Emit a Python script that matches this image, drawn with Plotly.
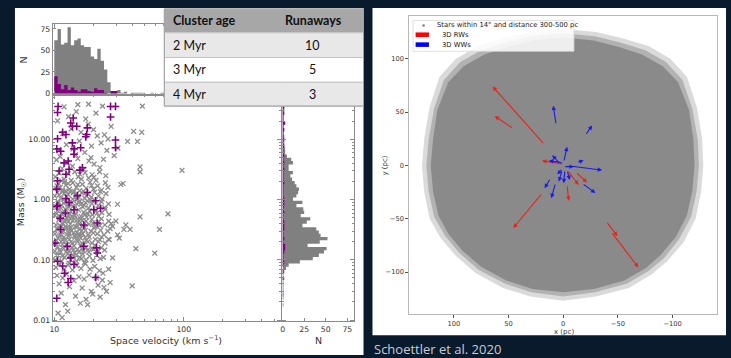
import numpy as np
import plotly.graph_objects as go

W, H = 731, 358
def fx(p): return p / W
def fy(p): return 1 - p / H

# ---------------- LEFT PANEL DATA ----------------
# all stars: (space velocity km/s, mass Msun)
gray_points = [
 (10.4,4.6),(11.5,3.3),(12.6,4.1),(13.8,3.6),(15.2,4.8),(16.9,3.2),(18.5,4.4),(20.3,3.9),(11.1,5.2),(14.6,5.6),(19.2,5.0),(22.5,3.4),(24.0,4.7),
 (10.2,2.4),(10.9,2.8),(11.9,2.2),(12.8,2.7),(13.5,2.1),(14.4,2.9),(15.3,2.4),(16.2,2.2),(17.3,2.8),(18.4,2.3),(19.6,2.6),(21.0,2.1),(22.4,2.9),(11.4,2.05),(15.8,2.65),(20.2,2.35),(25.0,2.5),
 (10.3,1.55),(10.8,1.85),(11.6,1.45),(12.3,1.75),(13.1,1.5),(13.9,1.9),(14.8,1.6),(15.7,1.42),(16.5,1.8),(17.6,1.55),(18.9,1.95),(20.1,1.5),(21.6,1.7),(23.2,1.45),(12.0,1.98),(14.2,1.38),(19.4,1.72),(26.0,1.6),(24.8,1.9),
 (10.1,1.15),(10.6,1.32),(11.2,1.05),(11.9,1.25),(12.5,1.1),(13.2,1.35),(13.9,1.02),(14.6,1.22),(15.4,1.12),(16.3,1.3),(17.2,1.06),(18.2,1.25),(19.3,1.1),(20.5,1.33),(21.9,1.15),(23.4,1.02),(25.1,1.26),(12.2,1.4),(16.8,1.38),(22.7,1.36),
 (10.2,0.78),(10.7,0.92),(11.3,0.72),(11.8,0.88),(12.4,0.97),(13.0,0.75),(13.7,0.9),(14.3,0.71),(15.0,0.84),(15.8,0.95),(16.6,0.76),(17.5,0.89),(18.4,0.73),(19.5,0.86),(20.6,0.97),(21.8,0.8),(23.1,0.92),(24.5,0.74),(26.2,0.85),(14.8,0.99),(19.0,0.99),(12.7,0.82),(17.0,0.81),
 (10.1,0.55),(10.6,0.66),(11.1,0.52),(11.6,0.61),(12.2,0.69),(12.8,0.54),(13.4,0.63),(14.0,0.5),(14.7,0.58),(15.4,0.68),(16.1,0.53),(16.9,0.62),(17.8,0.51),(18.7,0.65),(19.7,0.56),(20.8,0.67),(22.0,0.53),(23.3,0.61),(24.7,0.69),(26.5,0.57),(13.1,0.59),(18.2,0.58),(21.4,0.6),
 (10.3,0.38),(10.8,0.46),(11.4,0.36),(12.0,0.43),(12.6,0.49),(13.3,0.39),(13.9,0.45),(14.5,0.36),(15.2,0.42),(16.0,0.48),(16.8,0.37),(17.6,0.44),(18.5,0.39),(19.5,0.47),(20.6,0.36),(21.8,0.42),(23.1,0.48),(24.6,0.38),(26.3,0.44),(11.7,0.4),(15.6,0.39),(19.9,0.41),(22.4,0.37),(27.5,0.4),
 (10.1,0.27),(10.6,0.32),(11.2,0.26),(11.8,0.3),(12.4,0.34),(13.0,0.27),(13.6,0.31),(14.3,0.25),(15.0,0.29),(15.8,0.33),(16.6,0.27),(17.4,0.31),(18.3,0.26),(19.2,0.3),(20.3,0.34),(21.5,0.27),(22.8,0.31),(24.2,0.26),(25.9,0.3),(12.9,0.33),(16.2,0.3),(20.0,0.28),(27.0,0.33),
 (10.2,0.19),(10.7,0.23),(11.3,0.2),(11.9,0.24),(12.5,0.18),(13.1,0.22),(13.8,0.19),(14.5,0.24),(15.2,0.2),(16.0,0.23),(16.8,0.18),(17.7,0.21),(18.6,0.24),(19.6,0.19),(20.7,0.22),(21.9,0.2),(23.2,0.24),(24.7,0.19),(26.2,0.22),(11.6,0.215),(14.9,0.21),(18.2,0.2),(22.5,0.215),
 (10.1,0.14),(10.6,0.165),(11.2,0.135),(11.8,0.155),(12.4,0.175),(13.0,0.14),(13.7,0.16),(14.4,0.13),(15.1,0.15),(15.9,0.17),(16.7,0.14),(17.6,0.16),(18.5,0.135),(19.5,0.155),(20.6,0.175),(21.8,0.14),(23.1,0.16),(24.5,0.145),(12.7,0.15),(16.3,0.155),(20.1,0.15),
 (10.2,0.1),(10.8,0.12),(11.4,0.095),(12.0,0.11),(12.7,0.125),(13.4,0.1),(14.1,0.115),(14.9,0.095),(15.7,0.11),(16.6,0.125),(17.6,0.1),(18.7,0.115),(19.9,0.098),(21.2,0.12),(22.6,0.105),(13.0,0.088),(17.1,0.09),(24.0,0.11),
 (10.3,0.075),(11.0,0.085),(11.9,0.07),(12.8,0.082),(13.8,0.068),(14.9,0.08),(16.1,0.072),(17.4,0.086),(18.9,0.07),(20.5,0.078),(22.3,0.066),
 (10.4,0.58),(11.0,0.49),(11.5,0.57),(12.1,0.47),(12.9,0.44),(13.6,0.52),(14.4,0.55),(15.1,0.47),(16.4,0.45),(17.2,0.56),
 (10.5,0.33),(11.0,0.37),(11.5,0.29),(12.2,0.36),(12.8,0.29),(13.4,0.34),(14.1,0.28),(14.8,0.35),(15.5,0.26),(17.0,0.34),
 (10.4,0.21),(10.9,0.25),(11.5,0.18),(12.2,0.21),(12.9,0.25),(13.5,0.2),(14.2,0.17),(15.6,0.25),(16.4,0.19),(17.3,0.235),
 (10.4,0.12),(11.0,0.145),(11.6,0.115),(12.3,0.135),(13.2,0.12),(14.0,0.145),(14.7,0.12),(15.5,0.135),(16.2,0.105),(18.1,0.145),
 (10.7,0.87),(11.4,0.81),(12.1,0.93),(13.3,0.84),(14.0,0.78),(15.4,0.9),(16.2,0.86),(18.0,0.95),
 (10.9,1.2),(11.6,1.36),(12.8,1.22),(14.0,1.3),(15.0,1.05),(17.7,1.16),(10.5,1.7),(11.1,1.6),(12.8,1.85),(15.2,1.78),
 (10.5,0.055),(11.6,0.05),(12.4,0.058),(14.2,0.045),(15.5,0.052),(17.0,0.048),(18.6,0.056),(21.1,0.05),(23.5,0.046),(10.9,0.04),(13.1,0.036),(16.4,0.034),(19.3,0.03),(21.8,0.038),(24.2,0.035),(11.3,0.028),(14.6,0.025),(17.6,0.022),(19.8,0.027),(22.6,0.024),(12.2,0.018),(15.9,0.019),(18.1,0.018),(10.7,0.013),(11.5,0.011),(12.7,0.014),(25.3,0.03),(27.0,0.042),(23.8,0.06),(26.3,0.07),
 (10.9,6.5),(12.4,8.2),(14.0,7.0),(15.6,9.4),(17.2,6.1),(19.4,7.8),(21.5,11.5),(23.0,8.8),(25.5,6.6),(11.6,12.5),(13.5,15.0),(16.1,13.2),(18.3,18.0),(20.1,14.6),(24.4,12.0),(10.6,20.5),(12.9,24.0),(14.8,29.0),(17.5,22.0),(21.0,27.5),(11.9,35.0),(15.2,38.0),(18.4,38.7),(23.6,36.0),(47.9,36.0),(27.5,16.5),(29.0,5.4),(31.0,7.2),(26.0,10.2),
 (97,3.08),(75.5,0.58),(65,0.32),(59.7,0.129),(40,0.037),(46,3.5),(46,2.9),(47.4,13.2),(43.9,9.3),(41,13.7),(46,0.52),(42.7,0.154),(38.5,0.32),(35.7,0.38),(34.5,0.32),(30.8,0.26),(31.8,0.23),(32.7,1.79),(34,1.86),(30.8,0.84),(29.9,0.44),(28.2,0.36),(26.6,0.216),(28.2,0.108),(36.8,9.3),
]
gray_vel = [p[0] for p in gray_points]
gray_mass = [p[1] for p in gray_points]

# highlighted stars (purple crosses)
purple_points = [
 (10.7,35.5),(27.2,35.5),(29.7,35.5),(27.2,23.7),(10.6,28.2),(14.0,22.8),(13.4,18.8),(14.9,16.6),(13.8,16.6),(18.0,15.6),
 (11.6,13.2),(12.3,12.1),(17.8,12.1),(17.5,11.1),(29.7,9.8),(10.6,10.3),(13.8,8.8),(16.0,7.3),(29.7,7.3),(14.2,7.0),
 (11.2,6.4),(14.2,5.7),(10.45,7.0),(12.8,4.4),(11.9,4.1),(16.5,3.4),(15.8,3.1),(10.9,3.0),(13.0,3.2),(12.3,2.65),
 (10.6,2.06),(10.45,1.5),(12.3,1.05),(15.1,1.17),(18.0,1.32),(20.8,0.96),(10.6,0.8),(13.0,0.9),
 (10.45,0.77),(12.2,0.6),(11.1,0.49),(14.2,0.68),(20.2,0.68),(22.8,0.72),(16.9,0.38),(21.5,0.41),(11.2,0.32),(10.1,0.19),
 (12.6,0.168),(16.9,0.168),(21.2,0.158),(21.5,0.13),(13.4,0.108),(10.6,0.095),(14.2,0.084),(11.6,0.079),(12.0,0.06),(13.4,0.049),
 (12.8,0.042),(20.9,0.051),(10.45,0.023),
]
purple_vel = [p[0] for p in purple_points]
purple_mass = [p[1] for p in purple_points]

# velocity histogram (log10 bins)
vel_bin_log0, vel_bin_dlog = 1.0, 0.0256
vel_hist_all = [62,75,57,59,77,56,62,64,56,54,54,43,40,52,38,28,13,3,3,4,1,2,0,1,1,1,1,0,0,1,0,0,1,0,1,0,0,0,1,0]
vel_hist_sel = [20,11,5,10,4,7,4,2,5,5,3,2,6,4,4,1,0,3,3,0,0,0,0,0,0,0,0,0,0,0,0,0,0,0,0,0,0,0,0,0]

# mass histogram (log10 bins, low -> high mass)
mass_bin_log0, mass_bin_dlog = -1.774, 0.0549
mass_hist_all = [1,0,1,0,1,1,1,1,2,1, 2,4,7,20,35,42,48,51,29,43, 52,44,42,39,23,28,32,21,25,24,
                 16,23,12,16,18,19,16,14,11,9, 12,7,7,12,10,5,3,3,2,2, 1,2,1,1,1,2,1,1,1,2,2]
mass_hist_sel = [0,0,0,1,0,0,0,0,1,0, 1,0,1,2,1,1,2,3,3,1, 2,1,1,2,2,2,1,1,2,1,
                 2,2,2,1,1,1,1,2,1,1, 1,2,1,2,1,2,1,1,2,1, 2,1,1,2,1,3,1,1,2,1,2]

table_header = ["Cluster age", "Runaways"]
cluster_age = ["2 Myr", "3 Myr", "4 Myr"]
runaway_counts = [10, 5, 3]

# ---------------- RIGHT PANEL DATA ----------------
field_outer_x = [0,-30,-55,-78,-98,-113,-122,-127,-128,-126,-121,-110,-95,-81,-60,-30,0,30,55,80,98,112,122,127,129,127,122,113,98,78,55,30]
field_outer_y = [128,125,119,112,100,83,55,25,0,-25,-50,-72,-90,-102,-115,-123,-127,-123,-115,-101,-85,-68,-50,-25,0,25,55,83,100,112,119,125]
field_mid_x = [0,-29,-53,-75,-94,-109,-118,-123,-124,-122,-117,-106,-92,-78,-58,-29,0,29,53,77,95,108,118,123,125,123,118,109,94,75,53,29]
field_mid_y = [124,121,115,108,97,80,53,24,0,-24,-48,-69,-87,-99,-111,-119,-123,-119,-111,-98,-82,-66,-48,-24,0,24,53,80,97,108,115,121]
field_inner_x = [0,-28,-51,-72,-91,-105,-115,-119,-120,-118,-113,-103,-89,-76,-56,-28,0,28,52,75,92,105,114,119,121,119,115,105,91,72,51,28]
field_inner_y = [120,117,111,104,93,78,52,24,0,-24,-47,-67,-84,-96,-108,-116,-119,-116,-108,-95,-80,-64,-47,-24,0,24,52,78,93,104,111,117]

rw_tail_x = [17, 45.5, -0.5, -3.6, -11.2, -3.6, 19.1, -39.1, -43.9]
rw_tail_y = [19.5, 34.4, 1.2, -4.4, -5.9, -18.3, -26, -52.3, -62.3]
rw_head_x = [64.5, 62.5, 19.3, -14.2, -21.8, -5.1, 45.5, -49.6, -68.7]
rw_head_y = [74, 46.2, 4.4, -18.3, -16.1, -33.2, -58.6, -66.3, -95.7]

ww_tail_x = [6.4, -20.3, -0.5, 2.5, 0, -12.7, -6.6, 0, 0.9, -1.5, -3.6, 7, 11.5, -17.3, -0.5]
ww_tail_y = [38.1, 28.2, 3.4, 0.9, 2.5, 2.5, -0.6, -2.8, -4.4, -4.4, -4.4, -16.7, -12.1, -16.7, -1.2]
ww_head_x = [9.1, -26.4, -3.6, 10, 13.1, -18.7, -35.5, 5.5, 4, -0.5, -6, 10.9, 17, -29.4, -9.7]
ww_head_y = [56, 37.5, 17.4, 9.6, 4.4, 4.9, -4.4, -8.4, -15.1, -16.7, -13.7, -30.7, -21.4, -26, -1.2]

legend_labels = ["Stars within 14° and distance 300-500 pc", "3D RWs", "3D WWs"]
caption = "Schoettler et al. 2020"

# ---------------- FIGURE ----------------
GRAY = "#808080"
PURPLE = "#800080"
fig = go.Figure()

vel_edges = 10 ** (vel_bin_log0 + vel_bin_dlog * np.arange(len(vel_hist_all) + 1))
mass_edges = 10 ** (mass_bin_log0 + mass_bin_dlog * np.arange(len(mass_hist_all) + 1))

for counts, col in [(vel_hist_all, GRAY), (vel_hist_sel, PURPLE)]:
    fig.add_trace(go.Scatter(x=vel_edges, y=list(counts) + [counts[-1]], mode="lines",
                             line=dict(width=0, shape="hv", color=col), fill="tozeroy",
                             fillcolor=col, xaxis="x2", yaxis="y2", hoverinfo="skip"))
for counts, col in [(mass_hist_all, GRAY), (mass_hist_sel, PURPLE)]:
    fig.add_trace(go.Scatter(x=list(counts) + [counts[-1]], y=mass_edges, mode="lines",
                             line=dict(width=0, shape="vh", color=col), fill="tozerox",
                             fillcolor=col, xaxis="x3", yaxis="y3", hoverinfo="skip"))

fig.add_trace(go.Scatter(x=gray_vel, y=gray_mass, mode="markers", xaxis="x", yaxis="y",
                         hoverinfo="skip",
                         marker=dict(symbol="x-thin", size=4.8, color="#8c8c8c",
                                     line=dict(width=1.3, color="#8c8c8c"))))
fig.add_trace(go.Scatter(x=purple_vel, y=purple_mass, mode="markers", xaxis="x", yaxis="y",
                         hoverinfo="skip",
                         marker=dict(symbol="cross-thin", size=5.5, color=PURPLE,
                                     line=dict(width=1.6, color=PURPLE))))

for fxs, fys, col in [(field_outer_x, field_outer_y, "#dadada"),
                      (field_mid_x, field_mid_y, "#b2b2b2"),
                      (field_inner_x, field_inner_y, "#8a8a8a")]:
    fig.add_trace(go.Scatter(x=fxs, y=fys, mode="lines", fill="toself", fillcolor=col,
                             line=dict(width=0, color=col), xaxis="x4", yaxis="y4", hoverinfo="skip"))

LFONT = "DejaVu Sans"
SPINE = "#8a8a8a"
tick_font_l = dict(family=LFONT, size=7.7, color="#333")
tick_font_r = dict(family=LFONT, size=6.7, color="#333")

v_minor = [20, 30, 40, 50, 60, 70, 80, 90, 200, 300, 400, 500]
m_minor = [k * 10.0 ** e for e in (-2, -1, 0, 1) for k in range(2, 10)]

xdom = [fx(50), fx(279.5)]
ydom = [fy(324), fy(96)]
common = dict(showgrid=False, zeroline=False, showline=True, linecolor=SPINE, linewidth=1)

layout = dict(
    width=W, height=H, autosize=False, margin=dict(l=0, r=0, t=0, b=0),
    paper_bgcolor="#0a1a2d", plot_bgcolor="rgba(0,0,0,0)", showlegend=False,
    xaxis=dict(type="log", domain=xdom, range=[0.9885, 2.754], anchor="y", mirror="ticks",
               ticks="inside", ticklen=4, tickcolor=SPINE, tickvals=[10, 100], ticktext=["10", "100"],
               minor=dict(tickmode="array", tickvals=v_minor, ticks="inside", ticklen=2, tickcolor=SPINE),
               tickfont=tick_font_l, **common),
    yaxis=dict(type="log", domain=ydom, range=[-2.021, 1.737], anchor="x", mirror="ticks",
               ticks="inside", ticklen=4, tickcolor=SPINE, tickvals=[0.01, 0.1, 1, 10],
               ticktext=["0.01", "0.10", "1.00", "10.00"],
               minor=dict(tickmode="array", tickvals=m_minor, ticks="inside", ticklen=2, tickcolor=SPINE),
               tickfont=tick_font_l, **common),
    xaxis2=dict(type="log", domain=xdom, range=[0.9885, 2.754], anchor="y2", matches="x", mirror="ticks",
                ticks="inside", ticklen=4, tickcolor=SPINE, tickvals=[10, 100], showticklabels=False,
                minor=dict(tickmode="array", tickvals=v_minor, ticks="inside", ticklen=2, tickcolor=SPINE),
                **common),
    yaxis2=dict(domain=[fy(96), fy(24)], range=[-1.96, 81], anchor="x2", mirror="ticks",
                ticks="inside", ticklen=3, tickcolor=SPINE, tickvals=[0, 25, 50, 75],
                tickfont=tick_font_l, **common),
    xaxis3=dict(domain=[fx(280.5), fx(352)], range=[-0.3, 82.2], anchor="y3", mirror="ticks",
                ticks="inside", ticklen=3, tickcolor=SPINE, tickvals=[0, 25, 50, 75],
                tickfont=tick_font_l, **common),
    yaxis3=dict(type="log", domain=ydom, range=[-2.021, 1.737], anchor="x3", matches="y", mirror="ticks",
                ticks="inside", ticklen=4, tickcolor=SPINE, tickvals=[0.01, 0.1, 1, 10], showticklabels=False,
                minor=dict(tickmode="array", tickvals=m_minor, ticks="inside", ticklen=2, tickcolor=SPINE),
                **common),
    xaxis4=dict(domain=[fx(408), fx(717)], range=[140.6, -140.6], anchor="y4", mirror=True,
                ticks="outside", ticklen=3, tickcolor="#555", tickvals=[100, 50, 0, -50, -100],
                ticktext=["100", "50", "0", "\u221250", "\u2212100"], tickfont=tick_font_r,
                showgrid=False, zeroline=False, showline=True, linecolor="#b8b8b8", linewidth=1),
    yaxis4=dict(domain=[fy(316.7), fy(16)], range=[-139.4, 140.2], anchor="x4", mirror=True,
                ticks="outside", ticklen=3, tickcolor="#555", tickvals=[-100, -50, 0, 50, 100],
                ticktext=["\u2212100", "\u221250", "0", "50", "100"], tickfont=tick_font_r,
                showgrid=False, zeroline=False, showline=True, linecolor="#b8b8b8", linewidth=1),
)
fig.update_layout(**layout)

shapes = []
def rect(x0, y0, x1, y1, fill, line="rgba(0,0,0,0)", lw=0, layer="below"):
    shapes.append(dict(type="rect", xref="paper", yref="paper", x0=fx(x0), x1=fx(x1),
                       y0=fy(y1), y1=fy(y0), fillcolor=fill, line=dict(color=line, width=lw), layer=layer))

rect(12, 8, 362, 358, "white")
rect(371, 8, 726, 338, "white")

# table
row_edges = [9, 33, 58, 83, 107]
row_fills = ["#a7a7a7", "#e8e8e8", "#ffffff", "#e8e8e8"]
for i in range(4):
    rect(162, row_edges[i], 362, row_edges[i + 1], row_fills[i], line="#c4c4c4", lw=1, layer="above")
rect(162, 9, 362, 107, "rgba(0,0,0,0)", line="#a0a0a0", lw=1, layer="above")

# legend (right panel)
rect(411.7, 20.7, 573.3, 51.7, "rgba(255,255,255,0.85)", line="#d8d8d8", lw=0.8, layer="above")
shapes.append(dict(type="circle", xref="paper", yref="paper", x0=fx(421), x1=fx(423.6),
                   y0=fy(27), y1=fy(24.4), fillcolor="#808080", line=dict(width=0), layer="above"))
rect(414.3, 32.7, 427.7, 37.3, "#ff0000", layer="above")
rect(414.3, 42.7, 427.7, 47.3, "#0000ff", layer="above")
fig.update_layout(shapes=shapes)

ann = []
def text(x, y, s, size, color="#222", family=LFONT, xanchor="center", angle=0, bold=False):
    if bold:
        s = "<b>" + s + "</b>"
    ann.append(dict(x=fx(x), y=fy(y), xref="paper", yref="paper", text=s, showarrow=False,
                    xanchor=xanchor, yanchor="middle", textangle=angle,
                    font=dict(family=family, size=size, color=color)))

TFONT = "Lato"
text(169, 21, table_header[0], 12.5, "#111", TFONT, "left", bold=True)
text(312, 21, table_header[1], 12.5, "#111", TFONT, "center", bold=True)
for i, (age, n) in enumerate(zip(cluster_age, runaway_counts)):
    yc = (row_edges[i + 1] + row_edges[i + 2]) / 2
    text(169, yc, age, 12.5, "#111", TFONT, "left")
    text(311, yc, str(n), 12.5, "#111", TFONT, "center")

text(164, 343, "Space velocity (km s<sup>\u22121</sup>)", 9.5, "#333")
text(18, 203, "Mass (M<sub>\u2609</sub>)", 9.5, "#333", angle=-90)
text(317, 343, "N", 9.5, "#333")
text(21, 60, "N", 9.5, "#333", angle=-90)

text(563, 334.5, "x (pc)", 7, "#333")
text(383.5, 167, "y (pc)", 7, "#333", angle=-90)

text(433.3, 25.7, legend_labels[0], 6.8, "#222", xanchor="left")
text(438.3, 35, legend_labels[1], 6.8, "#222", xanchor="left")
text(438.3, 45, legend_labels[2], 6.8, "#222", xanchor="left")

text(371, 351.5, caption, 13, "#c9ccd0", "Open Sans", "left")

for tx, ty, hx, hy in zip(rw_tail_x, rw_tail_y, rw_head_x, rw_head_y):
    ann.append(dict(x=hx, y=hy, ax=tx, ay=ty, xref="x4", yref="y4", axref="x4", ayref="y4",
                    text="", showarrow=True, arrowhead=2, arrowsize=0.8, arrowwidth=1.1, arrowcolor="#e8231c"))
for tx, ty, hx, hy in zip(ww_tail_x, ww_tail_y, ww_head_x, ww_head_y):
    ann.append(dict(x=hx, y=hy, ax=tx, ay=ty, xref="x4", yref="y4", axref="x4", ayref="y4",
                    text="", showarrow=True, arrowhead=2, arrowsize=0.8, arrowwidth=1.1, arrowcolor="#1a1aee"))
fig.update_layout(annotations=ann)

fig.write_html("out.html", config={"displayModeBar": False, "staticPlot": True},
               post_script="document.body.style.margin='0';document.body.style.padding='0';"
                           "document.body.style.overflow='hidden';")
